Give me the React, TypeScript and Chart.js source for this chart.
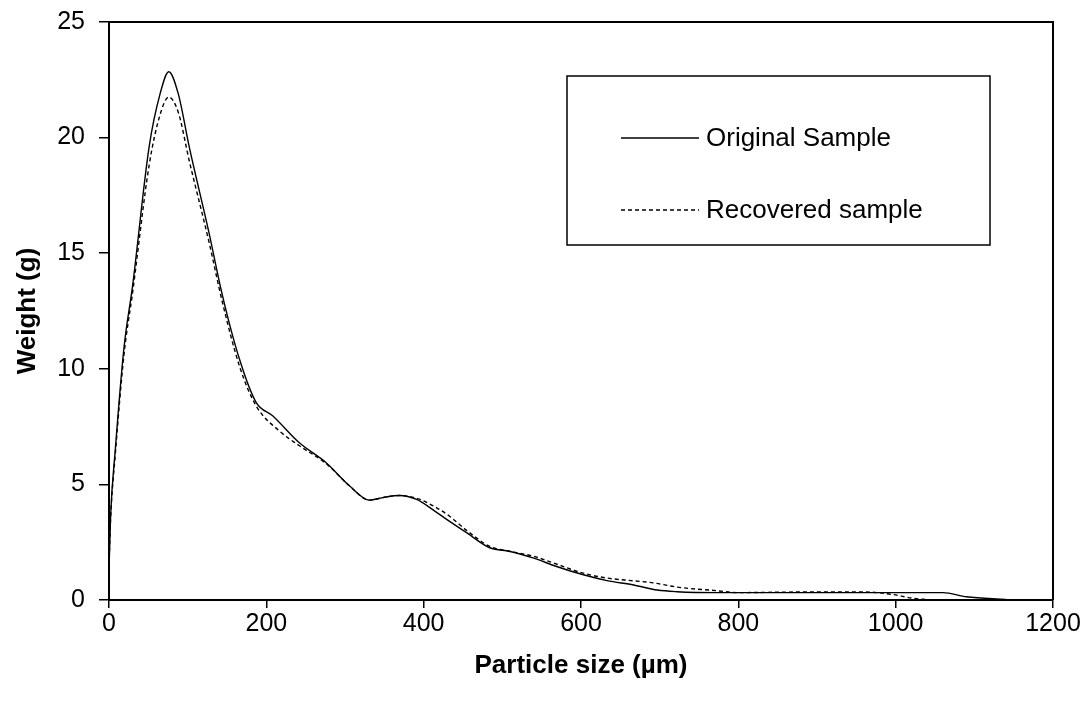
import React, { useEffect, useRef } from "react";
import { Chart, registerables } from "chart.js";
Chart.register(...registerables);

const seriesNames = ["Original Sample", "Recovered sample"];
const xTitle = "Particle size (µm)";
const yTitle = "Weight (g)";

const originalSize = [0, 2, 8, 19, 30, 51, 65, 76, 88, 102, 127, 144, 166, 187, 208, 242, 276, 306, 331, 348, 369, 391, 412, 433, 455, 484, 510, 539, 569, 603, 633, 667, 697, 722, 773, 900, 1060, 1090, 1140];
const originalWeight = [1.3, 3.6, 6.5, 10.9, 13.6, 19.6, 21.9, 22.85, 21.9, 19.6, 15.9, 13.2, 10.4, 8.55, 7.97, 6.8, 5.94, 4.93, 4.32, 4.43, 4.52, 4.35, 3.9, 3.4, 2.9, 2.26, 2.1, 1.82, 1.45, 1.09, 0.84, 0.65, 0.43, 0.36, 0.32, 0.32, 0.32, 0.14, 0.02];

const recoveredSize = [0, 2, 8, 19, 30, 51, 65, 76, 88, 102, 127, 144, 166, 187, 217, 242, 276, 306, 331, 348, 369, 391, 416, 433, 455, 484, 510, 539, 565, 603, 633, 667, 692, 722, 773, 799, 900, 958, 994, 1023, 1040];
const recoveredWeight = [1.5, 3.5, 6.3, 10.6, 13.3, 18.8, 21.0, 21.75, 21.1, 19.0, 15.5, 12.9, 10.1, 8.4, 7.3, 6.67, 5.9, 4.93, 4.32, 4.43, 4.52, 4.4, 4.0, 3.62, 3.0, 2.32, 2.1, 1.9, 1.6, 1.16, 0.95, 0.83, 0.74, 0.56, 0.4, 0.32, 0.35, 0.35, 0.25, 0.07, 0.02];

const FONT = "'Liberation Sans', Arial, sans-serif";

const framePlugin = {
  id: "frameAndLegend",
  afterDraw(chart: any) {
    const { ctx, chartArea } = chart;
    ctx.save();
    ctx.strokeStyle = "#000";
    ctx.lineWidth = 2;
    ctx.beginPath();
    ctx.moveTo(chartArea.left, chartArea.top);
    ctx.lineTo(chartArea.right, chartArea.top);
    ctx.lineTo(chartArea.right, chartArea.bottom);
    ctx.stroke();

    // legend box
    const bx = 567, by = 76, bw = 423, bh = 169;
    ctx.lineWidth = 1.5;
    ctx.strokeRect(bx, by, bw, bh);
    ctx.font = `26px ${FONT}`;
    ctx.fillStyle = "#000";
    ctx.textBaseline = "middle";
    const rows = [138, 210];
    chart.data.datasets.forEach((ds: any, i: number) => {
      const y = rows[i];
      ctx.beginPath();
      ctx.lineWidth = 1.3;
      ctx.setLineDash(ds.borderDash || []);
      ctx.moveTo(621, y);
      ctx.lineTo(699, y);
      ctx.stroke();
      ctx.setLineDash([]);
      ctx.fillText(ds.label, 706, y + 1);
    });
    ctx.restore();
  },
};

export default function App() {
  const ref = useRef<HTMLCanvasElement | null>(null);
  useEffect(() => {
    if (!ref.current) return;
    const chart = new Chart(ref.current, {
      type: "line",
      data: {
        datasets: [
          {
            label: seriesNames[0],
            data: originalSize.map((x, i) => ({ x, y: originalWeight[i] })),
            borderColor: "#000",
            borderWidth: 1.4,
            pointRadius: 0,
            cubicInterpolationMode: "monotone",
            fill: false,
          },
          {
            label: seriesNames[1],
            data: recoveredSize.map((x, i) => ({ x, y: recoveredWeight[i] })),
            borderColor: "#000",
            borderWidth: 1.4,
            borderDash: [4, 3],
            pointRadius: 0,
            cubicInterpolationMode: "monotone",
            fill: false,
          },
        ],
      },
      options: {
        animation: false,
        responsive: false,
        layout: { padding: { top: 22, right: 35, left: 0, bottom: 0 } },
        plugins: { legend: { display: false }, tooltip: { enabled: false } },
        scales: {
          x: {
            type: "linear",
            min: 0,
            max: 1200,
            ticks: { stepSize: 200, color: "#000", font: { family: FONT, size: 25 }, padding: 1, maxRotation: 0, callback: (v: any) => String(v) },
            grid: { drawOnChartArea: false, drawTicks: true, tickLength: 8, color: "#000", lineWidth: 1.5 },
            border: { display: true, color: "#000", width: 2 },
            title: { display: true, text: xTitle, color: "#000", font: { family: FONT, size: 26, weight: "bold" }, padding: { top: 0, bottom: 23 } },
            afterFit: (s: any) => { s.height = 104; s.paddingLeft = 0; s.paddingRight = 0; },
          },
          y: {
            min: 0,
            max: 25,
            ticks: { stepSize: 5, color: "#000", font: { family: FONT, size: 25 }, padding: 14, callback: (v: any) => String(v) },
            grid: { drawOnChartArea: false, drawTicks: true, tickLength: 10, color: "#000", lineWidth: 1.5 },
            border: { display: true, color: "#000", width: 2 },
            title: { display: true, text: yTitle, color: "#000", font: { family: FONT, size: 26, weight: "bold" }, padding: { top: 12, bottom: 0 } },
            afterFit: (s: any) => { s.width = 109; s.paddingTop = 0; s.paddingBottom = 0; },
          },
        },
      },
      plugins: [framePlugin],
    } as any);
    return () => chart.destroy();
  }, []);
  return (
    <div style={{ position: "absolute", left: 0, top: 0, width: 1088, height: 704, background: "#fff" }}>
      <canvas ref={ref} width={1088} height={704} style={{ display: "block" }} />
    </div>
  );
}
